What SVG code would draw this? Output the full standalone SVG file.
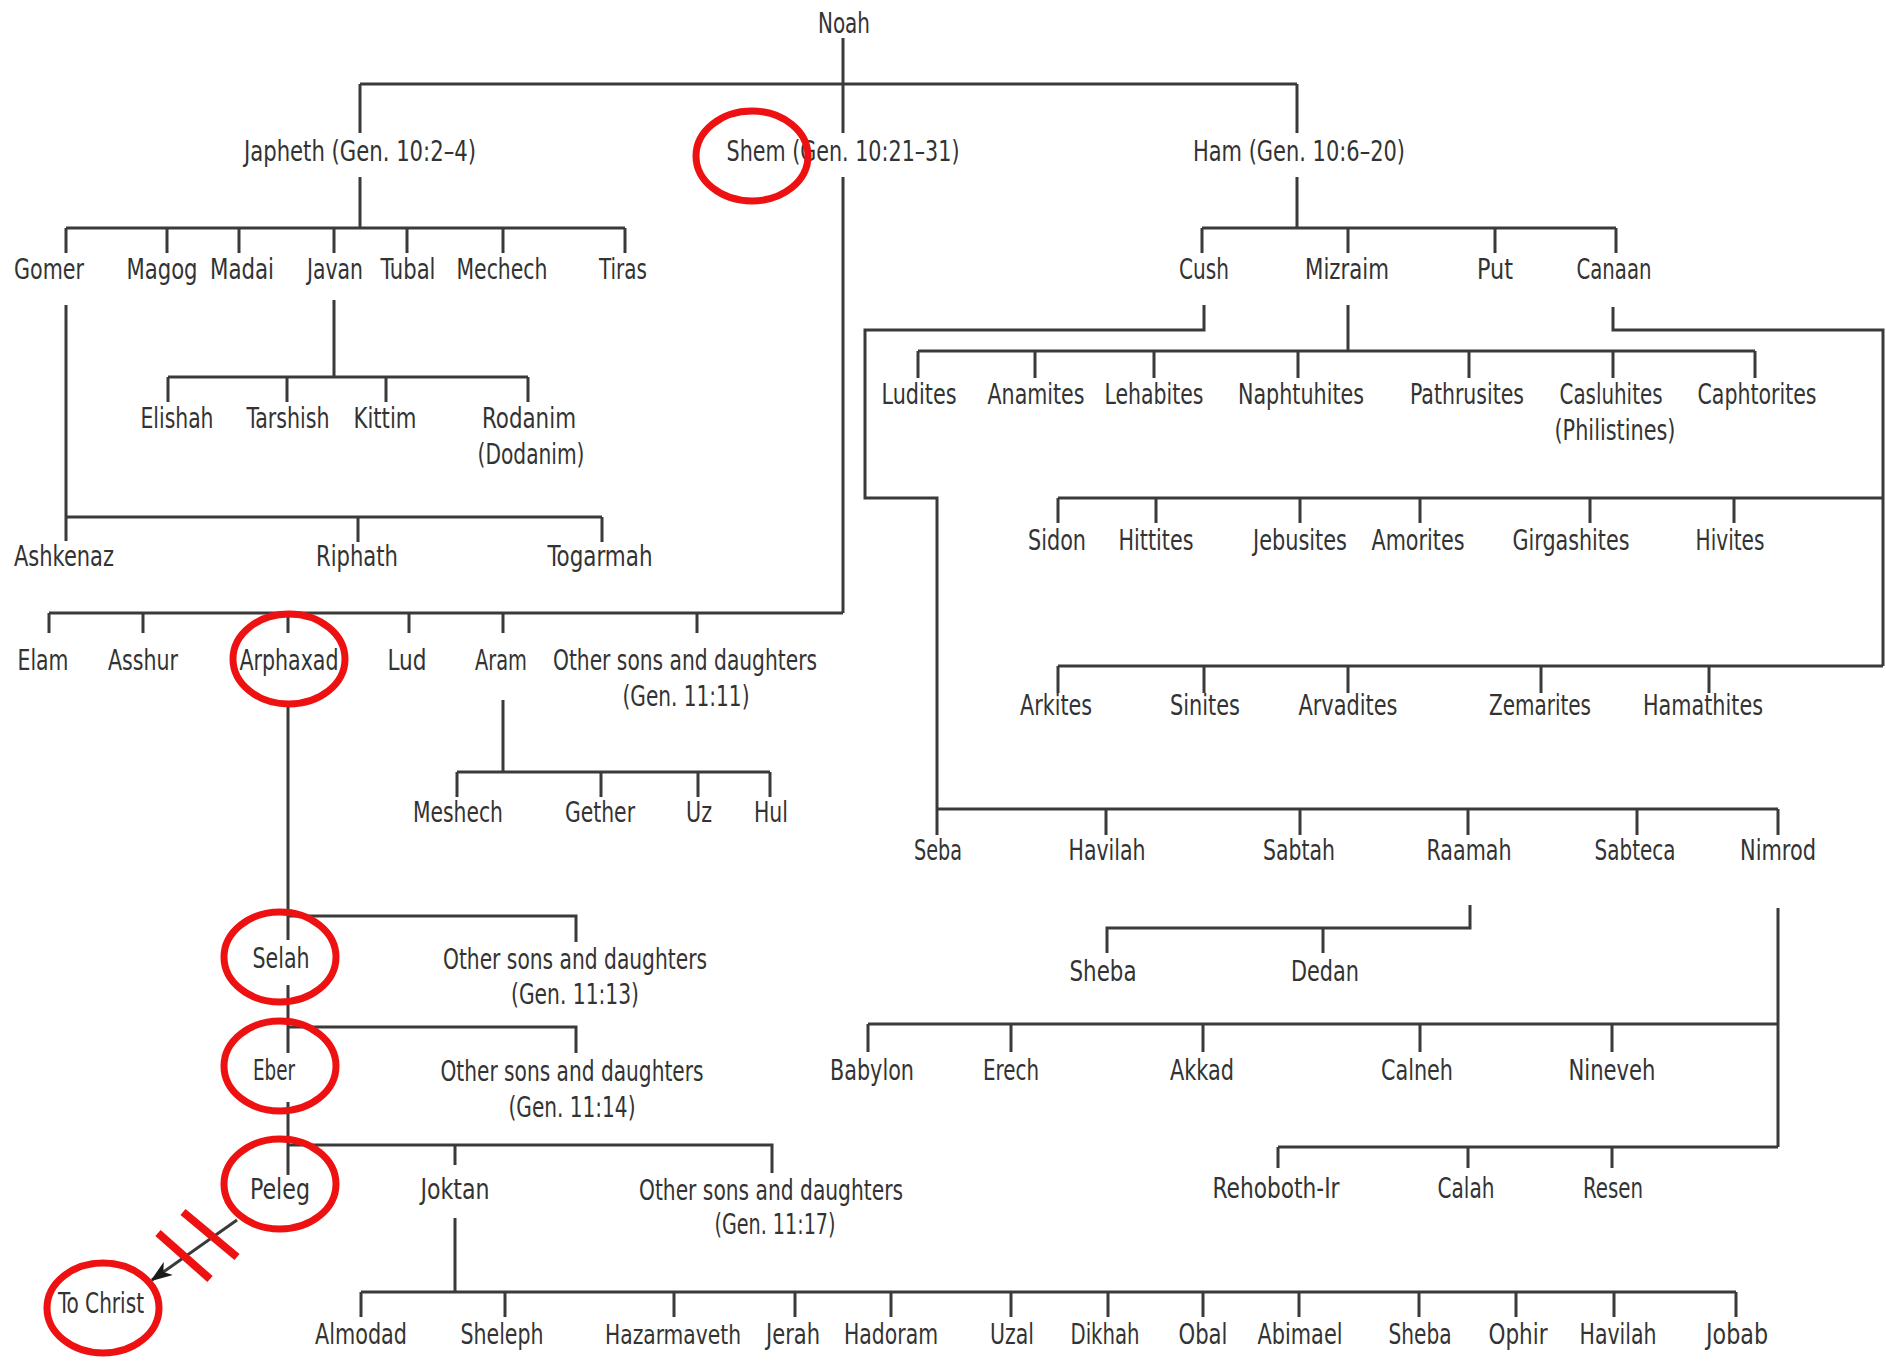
<svg xmlns="http://www.w3.org/2000/svg" width="1886" height="1361" viewBox="0 0 1886 1361">
<style>
text{font-family:'Liberation Sans Narrow','DejaVu Sans Condensed','Liberation Sans',sans-serif;font-size:28px;fill:#333;text-anchor:middle}
.c path{fill:none;stroke:#3a3a3a;stroke-width:3;stroke-linejoin:miter}
.r{fill:none;stroke:#ee1111;stroke-width:7}
.s{stroke:#ee1111;stroke-width:8}
</style>
<defs>
<marker id="ah" viewBox="0 0 22 16" refX="20" refY="8" markerWidth="22" markerHeight="16" markerUnits="userSpaceOnUse" orient="auto"><path d="M0,0 L22,8 L0,16 L6,8 Z" fill="#1a1a1a"/></marker>
</defs>
<rect width="1886" height="1361" fill="#fff"/>
<g class="c" id="connectors">
<path d="M843 38V133M360 84H1297M360 84V133M1297 84V133"/>
<path d="M360 177V228M66 228H625M66 228V253M167 228V253M239 228V253M334 228V253M407 228V253M503 228V253M625 228V253"/>
<path d="M66 305V541M66 517H602M358 517V542M602 517V542"/>
<path d="M334 300V377M168 377H528M168 377V402M287 377V402M386 377V402M528 377V402"/>
<path d="M843 177V613M49 613H843M49 613V633M143 613V633M288 613V633M409 613V633M503 613V633M697 613V633"/>
<path d="M503 700V772M457 772H770M457 772V797M601 772V797M698 772V797M770 772V797"/>
<path d="M288 702V940M288 916H576V942"/>
<path d="M288 985V1053M288 1027H576V1053"/>
<path d="M288 1102V1175M288 1145H772V1173M455 1145V1165"/>
<path d="M455 1218V1292M361 1292H1736M361 1292V1317M505 1292V1317M674 1292V1317M795 1292V1317M891 1292V1317M1011 1292V1317M1108 1292V1317M1203 1292V1317M1299 1292V1317M1419 1292V1317M1516 1292V1317M1614 1292V1317M1736 1292V1317"/>
<path d="M237 1220L152 1280" marker-end="url(#ah)"/>
<path d="M1297 177V228M1202 228H1616M1202 228V253M1348 228V253M1495 228V253M1616 228V253"/>
<path d="M1204 305V330H865V498H937V809M937 809H1778M937 809V835M1106 809V835M1300 809V835M1468 809V835M1637 809V835M1778 809V835"/>
<path d="M1348 305V351M918 351H1755M918 351V378M1035 351V378M1154 351V378M1298 351V378M1469 351V378M1613 351V378M1755 351V378"/>
<path d="M1613 307V330H1883V666M1058 498H1883M1058 498V523M1156 498V523M1300 498V523M1420 498V523M1590 498V523M1734 498V523M1058 666H1883M1058 666V693M1204 666V693M1348 666V693M1541 666V693M1709 666V693"/>
<path d="M1470 905V928H1107V953M1323 928V953"/>
<path d="M1778 908V1147M868 1024H1778M868 1024V1052M1011 1024V1052M1203 1024V1052M1420 1024V1052M1612 1024V1052M1278 1147H1778M1278 1147V1168M1468 1147V1168M1612 1147V1168"/>
</g>
<g id="noah"><text x="844" y="33" textLength="52" lengthAdjust="spacingAndGlyphs">Noah</text></g>
<g id="japheth"><text x="360" y="161" textLength="232" lengthAdjust="spacingAndGlyphs">Japheth (Gen. 10:2–4)</text></g>
<g id="shem"><text x="843" y="161" textLength="233" lengthAdjust="spacingAndGlyphs">Shem (Gen. 10:21–31)</text></g>
<g id="ham"><text x="1299" y="161" textLength="212" lengthAdjust="spacingAndGlyphs">Ham (Gen. 10:6–20)</text></g>
<g id="gomer"><text x="49" y="279" textLength="70" lengthAdjust="spacingAndGlyphs">Gomer</text></g>
<g id="magog"><text x="162" y="279" textLength="71" lengthAdjust="spacingAndGlyphs">Magog</text></g>
<g id="madai"><text x="242" y="279" textLength="64" lengthAdjust="spacingAndGlyphs">Madai</text></g>
<g id="javan"><text x="335" y="279" textLength="56" lengthAdjust="spacingAndGlyphs">Javan</text></g>
<g id="tubal"><text x="408" y="279" textLength="55" lengthAdjust="spacingAndGlyphs">Tubal</text></g>
<g id="mechech"><text x="502" y="279" textLength="91" lengthAdjust="spacingAndGlyphs">Mechech</text></g>
<g id="tiras"><text x="623" y="279" textLength="48" lengthAdjust="spacingAndGlyphs">Tiras</text></g>
<g id="elishah"><text x="177" y="428" textLength="73" lengthAdjust="spacingAndGlyphs">Elishah</text></g>
<g id="tarshish"><text x="288" y="428" textLength="83" lengthAdjust="spacingAndGlyphs">Tarshish</text></g>
<g id="kittim"><text x="385" y="428" textLength="63" lengthAdjust="spacingAndGlyphs">Kittim</text></g>
<g id="rodanim"><text x="529" y="428" textLength="94" lengthAdjust="spacingAndGlyphs">Rodanim</text><text x="531" y="464" textLength="107" lengthAdjust="spacingAndGlyphs">(Dodanim)</text></g>
<g id="ashkenaz"><text x="64" y="566" textLength="100" lengthAdjust="spacingAndGlyphs">Ashkenaz</text></g>
<g id="riphath"><text x="357" y="566" textLength="82" lengthAdjust="spacingAndGlyphs">Riphath</text></g>
<g id="togarmah"><text x="600" y="566" textLength="105" lengthAdjust="spacingAndGlyphs">Togarmah</text></g>
<g id="elam"><text x="43" y="670" textLength="51" lengthAdjust="spacingAndGlyphs">Elam</text></g>
<g id="asshur"><text x="143" y="670" textLength="70" lengthAdjust="spacingAndGlyphs">Asshur</text></g>
<g id="arphaxad"><text x="289" y="670" textLength="99" lengthAdjust="spacingAndGlyphs">Arphaxad</text></g>
<g id="lud"><text x="407" y="670" textLength="39" lengthAdjust="spacingAndGlyphs">Lud</text></g>
<g id="aram"><text x="501" y="670" textLength="52" lengthAdjust="spacingAndGlyphs">Aram</text></g>
<g id="other-shem"><text x="685" y="670" textLength="264" lengthAdjust="spacingAndGlyphs">Other sons and daughters</text><text x="686" y="706" textLength="127" lengthAdjust="spacingAndGlyphs">(Gen. 11:11)</text></g>
<g id="meshech"><text x="458" y="822" textLength="90" lengthAdjust="spacingAndGlyphs">Meshech</text></g>
<g id="gether"><text x="600" y="822" textLength="70" lengthAdjust="spacingAndGlyphs">Gether</text></g>
<g id="uz"><text x="699" y="822" textLength="26" lengthAdjust="spacingAndGlyphs">Uz</text></g>
<g id="hul"><text x="771" y="822" textLength="34" lengthAdjust="spacingAndGlyphs">Hul</text></g>
<g id="selah"><text x="281" y="968" textLength="57" lengthAdjust="spacingAndGlyphs">Selah</text></g>
<g id="other-selah"><text x="575" y="969" textLength="264" lengthAdjust="spacingAndGlyphs">Other sons and daughters</text><text x="575" y="1004" textLength="128" lengthAdjust="spacingAndGlyphs">(Gen. 11:13)</text></g>
<g id="eber"><text x="274" y="1080" textLength="42" lengthAdjust="spacingAndGlyphs">Eber</text></g>
<g id="other-eber"><text x="572" y="1081" textLength="263" lengthAdjust="spacingAndGlyphs">Other sons and daughters</text><text x="572" y="1117" textLength="127" lengthAdjust="spacingAndGlyphs">(Gen. 11:14)</text></g>
<g id="peleg"><text x="280" y="1199" textLength="60" lengthAdjust="spacingAndGlyphs">Peleg</text></g>
<g id="joktan"><text x="455" y="1199" textLength="69" lengthAdjust="spacingAndGlyphs">Joktan</text></g>
<g id="other-peleg"><text x="771" y="1200" textLength="264" lengthAdjust="spacingAndGlyphs">Other sons and daughters</text><text x="775" y="1234" textLength="121" lengthAdjust="spacingAndGlyphs">(Gen. 11:17)</text></g>
<g id="to-christ"><text x="101" y="1313" textLength="86" lengthAdjust="spacingAndGlyphs">To Christ</text></g>
<g id="almodad"><text x="361" y="1344" textLength="92" lengthAdjust="spacingAndGlyphs">Almodad</text></g>
<g id="sheleph"><text x="502" y="1344" textLength="83" lengthAdjust="spacingAndGlyphs">Sheleph</text></g>
<g id="hazarmaveth"><text x="673" y="1344" textLength="136" lengthAdjust="spacingAndGlyphs" style="font-size:26px">Hazarmaveth</text></g>
<g id="jerah"><text x="793" y="1344" textLength="54" lengthAdjust="spacingAndGlyphs">Jerah</text></g>
<g id="hadoram"><text x="891" y="1344" textLength="94" lengthAdjust="spacingAndGlyphs">Hadoram</text></g>
<g id="uzal"><text x="1012" y="1344" textLength="44" lengthAdjust="spacingAndGlyphs">Uzal</text></g>
<g id="dikhah"><text x="1105" y="1344" textLength="69" lengthAdjust="spacingAndGlyphs">Dikhah</text></g>
<g id="obal"><text x="1203" y="1344" textLength="49" lengthAdjust="spacingAndGlyphs">Obal</text></g>
<g id="abimael"><text x="1300" y="1344" textLength="85" lengthAdjust="spacingAndGlyphs">Abimael</text></g>
<g id="sheba-joktan"><text x="1420" y="1344" textLength="63" lengthAdjust="spacingAndGlyphs">Sheba</text></g>
<g id="ophir"><text x="1518" y="1344" textLength="59" lengthAdjust="spacingAndGlyphs">Ophir</text></g>
<g id="havilah-joktan"><text x="1618" y="1344" textLength="77" lengthAdjust="spacingAndGlyphs">Havilah</text></g>
<g id="jobab"><text x="1737" y="1344" textLength="62" lengthAdjust="spacingAndGlyphs">Jobab</text></g>
<g id="cush"><text x="1204" y="279" textLength="50" lengthAdjust="spacingAndGlyphs">Cush</text></g>
<g id="mizraim"><text x="1347" y="279" textLength="84" lengthAdjust="spacingAndGlyphs">Mizraim</text></g>
<g id="put"><text x="1495" y="279" textLength="36" lengthAdjust="spacingAndGlyphs">Put</text></g>
<g id="canaan"><text x="1614" y="279" textLength="75" lengthAdjust="spacingAndGlyphs">Canaan</text></g>
<g id="ludites"><text x="919" y="404" textLength="75" lengthAdjust="spacingAndGlyphs">Ludites</text></g>
<g id="anamites"><text x="1036" y="404" textLength="97" lengthAdjust="spacingAndGlyphs">Anamites</text></g>
<g id="lehabites"><text x="1154" y="404" textLength="99" lengthAdjust="spacingAndGlyphs">Lehabites</text></g>
<g id="naphtuhites"><text x="1301" y="404" textLength="126" lengthAdjust="spacingAndGlyphs">Naphtuhites</text></g>
<g id="pathrusites"><text x="1467" y="404" textLength="114" lengthAdjust="spacingAndGlyphs">Pathrusites</text></g>
<g id="casluhites"><text x="1611" y="404" textLength="103" lengthAdjust="spacingAndGlyphs">Casluhites</text><text x="1615" y="440" textLength="121" lengthAdjust="spacingAndGlyphs">(Philistines)</text></g>
<g id="caphtorites"><text x="1757" y="404" textLength="119" lengthAdjust="spacingAndGlyphs">Caphtorites</text></g>
<g id="sidon"><text x="1057" y="550" textLength="58" lengthAdjust="spacingAndGlyphs">Sidon</text></g>
<g id="hittites"><text x="1156" y="550" textLength="75" lengthAdjust="spacingAndGlyphs">Hittites</text></g>
<g id="jebusites"><text x="1300" y="550" textLength="94" lengthAdjust="spacingAndGlyphs">Jebusites</text></g>
<g id="amorites"><text x="1418" y="550" textLength="93" lengthAdjust="spacingAndGlyphs">Amorites</text></g>
<g id="girgashites"><text x="1571" y="550" textLength="117" lengthAdjust="spacingAndGlyphs">Girgashites</text></g>
<g id="hivites"><text x="1730" y="550" textLength="69" lengthAdjust="spacingAndGlyphs">Hivites</text></g>
<g id="arkites"><text x="1056" y="715" textLength="72" lengthAdjust="spacingAndGlyphs">Arkites</text></g>
<g id="sinites"><text x="1205" y="715" textLength="70" lengthAdjust="spacingAndGlyphs">Sinites</text></g>
<g id="arvadites"><text x="1348" y="715" textLength="99" lengthAdjust="spacingAndGlyphs">Arvadites</text></g>
<g id="zemarites"><text x="1540" y="715" textLength="102" lengthAdjust="spacingAndGlyphs">Zemarites</text></g>
<g id="hamathites"><text x="1703" y="715" textLength="120" lengthAdjust="spacingAndGlyphs">Hamathites</text></g>
<g id="seba"><text x="938" y="860" textLength="48" lengthAdjust="spacingAndGlyphs">Seba</text></g>
<g id="havilah-cush"><text x="1107" y="860" textLength="77" lengthAdjust="spacingAndGlyphs">Havilah</text></g>
<g id="sabtah"><text x="1299" y="860" textLength="72" lengthAdjust="spacingAndGlyphs">Sabtah</text></g>
<g id="raamah"><text x="1469" y="860" textLength="85" lengthAdjust="spacingAndGlyphs">Raamah</text></g>
<g id="sabteca"><text x="1635" y="860" textLength="81" lengthAdjust="spacingAndGlyphs">Sabteca</text></g>
<g id="nimrod"><text x="1778" y="860" textLength="76" lengthAdjust="spacingAndGlyphs">Nimrod</text></g>
<g id="sheba-raamah"><text x="1103" y="981" textLength="67" lengthAdjust="spacingAndGlyphs">Sheba</text></g>
<g id="dedan"><text x="1325" y="981" textLength="68" lengthAdjust="spacingAndGlyphs">Dedan</text></g>
<g id="babylon"><text x="872" y="1080" textLength="84" lengthAdjust="spacingAndGlyphs">Babylon</text></g>
<g id="erech"><text x="1011" y="1080" textLength="56" lengthAdjust="spacingAndGlyphs">Erech</text></g>
<g id="akkad"><text x="1202" y="1080" textLength="64" lengthAdjust="spacingAndGlyphs">Akkad</text></g>
<g id="calneh"><text x="1417" y="1080" textLength="72" lengthAdjust="spacingAndGlyphs">Calneh</text></g>
<g id="nineveh"><text x="1612" y="1080" textLength="87" lengthAdjust="spacingAndGlyphs">Nineveh</text></g>
<g id="rehoboth-ir"><text x="1276" y="1198" textLength="127" lengthAdjust="spacingAndGlyphs">Rehoboth-Ir</text></g>
<g id="calah"><text x="1466" y="1198" textLength="57" lengthAdjust="spacingAndGlyphs">Calah</text></g>
<g id="resen"><text x="1613" y="1198" textLength="60" lengthAdjust="spacingAndGlyphs">Resen</text></g>
<g id="highlights">
<ellipse class="r" cx="752" cy="156" rx="56" ry="45"/>
<ellipse class="r" cx="289" cy="659" rx="56" ry="45"/>
<ellipse class="r" cx="280" cy="957" rx="56" ry="45"/>
<ellipse class="r" cx="280" cy="1066" rx="56" ry="45"/>
<ellipse class="r" cx="280" cy="1184" rx="56" ry="45"/>
<ellipse class="r" cx="103" cy="1308" rx="56" ry="45"/>
<line class="s" x1="183" y1="1212" x2="237" y2="1257"/>
<line class="s" x1="158" y1="1233" x2="210" y2="1279"/>
</g>
</svg>
